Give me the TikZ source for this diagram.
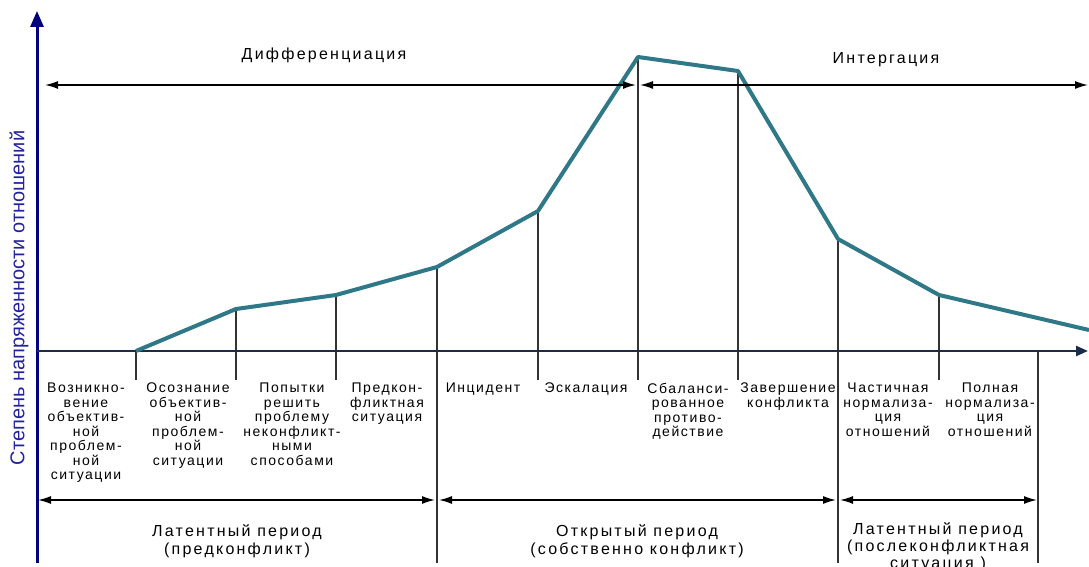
\documentclass[tikz,border=0pt]{standalone}
\usepackage{fontspec}
\setmainfont{Liberation Sans}
\newfontfamily\widefont[LetterSpace=11]{Liberation Sans}
\newfontfamily\widerfont[LetterSpace=14]{Liberation Sans}
\usetikzlibrary{arrows.meta}
\definecolor{curveteal}{HTML}{2F7888}
\definecolor{axisnavy}{HTML}{00007F}
\definecolor{xnavy}{HTML}{1C2B4A}
\definecolor{labelblue}{HTML}{2222A0}

\begin{document}
\begin{tikzpicture}[x=1pt,y=1pt,
    tick/.style={draw=black!80, line width=1.2pt},
    span/.style={{Latex[length=13pt,width=8pt]}-{Latex[length=13pt,width=8pt]}, line width=1.5pt},
    stage/.style={anchor=north, align=center, inner sep=0pt, font=\widefont\fontsize{14}{14.5}\selectfont},
    period/.style={anchor=north, align=center, inner sep=0pt, font=\widerfont\fontsize{16}{18}\selectfont}]
    \useasboundingbox (0,0) rectangle (1089,567);

    \foreach \x/\y in {136/216,236/258,336/272,538/356,638/510,738/496,939/272}
    {
        \draw[tick] (\x,\y) -- (\x,187);
    }
    \draw[tick] (437,300) -- (437,4);
    \draw[tick] (838,328) -- (838,4);
    \draw[tick] (1038,216) -- (1038,4);

    \draw[axisnavy, line width=3pt, -{Triangle[length=16pt,width=13pt]}] (37,4) -- (37,556);
    \draw[xnavy, line width=2.5pt, -{Triangle[length=12pt,width=10pt]}] (37,216) -- (1088,216);
    \draw[curveteal, line width=4pt, line join=round] (136,216) -- (236,258) -- (336,272) -- (437,300)
        -- (538,356) -- (638,510) -- (738,496) -- (838,328) -- (939,272) -- (1089,237);

    \draw[span] (45,482) -- (636,482);
    \draw[span] (640,482) -- (1088,482);
    \node[font=\widerfont\fontsize{16}{18}\selectfont] (diff) at (324,512) {Дифференциация};
    \node[font=\widerfont\fontsize{16}{18}\selectfont] (integr) at (886,507) {Интергация};

    \draw[span] (38,67) -- (435,67);
    \draw[span] (439,67) -- (836,67);
    \draw[span] (840,67) -- (1037,67);

    \node[stage] (s1) at (86,184) {Возникно-\\вение\\объектив-\\ной\\проблем-\\ной\\ситуации};
    \node[stage] (s2) at (188,184) {Осознание\\объектив-\\ной\\проблем-\\ной\\ситуации};
    \node[stage] (s3) at (292,184) {Попытки\\решить\\проблему\\неконфликт-\\ными\\способами};
    \node[stage] (s4) at (387,184) {Предкон-\\фликтная\\ситуация};
    \node[stage] (s5) at (483,184) {Инцидент};
    \node[stage] (s6) at (586,184) {Эскалация};
    \node[stage] (s7) at (688,184) {Сбаланси-\\рованное\\противо-\\действие};
    \node[stage] (s8) at (788,184) {Завершение\\конфликта};
    \node[stage] (s9) at (888,184) {Частичная\\нормализа-\\ция\\отношений};
    \node[stage] (s10) at (990,184) {Полная\\нормализа-\\ция\\отношений};

    \node[period] (latent1) at (237,43) {Латентный период\\(предконфликт)};
    \node[period] (open) at (637,43) {Открытый период\\(собственно конфликт)};
    \node[period, font=\widerfont\fontsize{16}{17}\selectfont] (latent2) at (938,45) {Латентный период\\(послеконфликтная\\ситуация )};

    \node[rotate=90, text=labelblue, font=\fontsize{20}{20}\selectfont] (ylab) at (19,269) {Степень напряженности отношений};
\end{tikzpicture}
\end{document}
